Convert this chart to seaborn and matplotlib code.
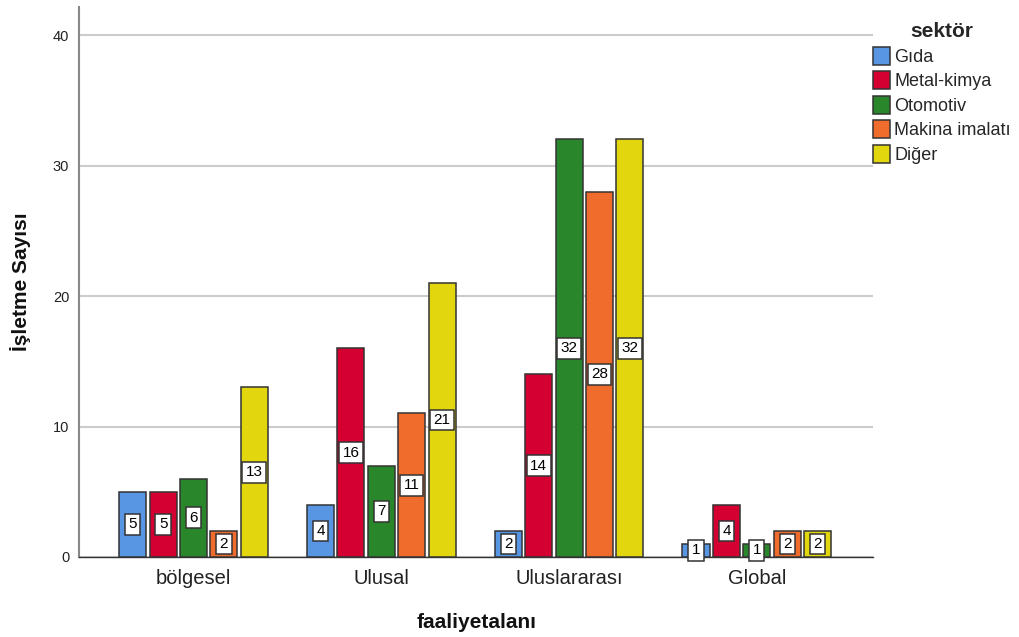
import matplotlib
matplotlib.use("Agg")
import matplotlib.pyplot as plt
import seaborn as sns
import pandas as pd

# Number of firms by activity scope and sector
activity = ["bölgesel", "Ulusal", "Uluslararası", "Global"]
sectors = ["Gıda", "Metal-kimya", "Otomotiv", "Makina imalatı", "Diğer"]
gida = [5, 4, 2, 1]
metal_kimya = [5, 16, 14, 4]
otomotiv = [6, 7, 32, 1]
makina = [2, 11, 28, 2]
diger = [13, 21, 32, 2]
y_ticks = [0, 10, 20, 30, 40]

palette = ["#5895E3", "#D50032", "#2A862A", "#F06C2C", "#E2D60F"]

series = [gida, metal_kimya, otomotiv, makina, diger]
rows = []
for sec, vals in zip(sectors, series):
    for act, v in zip(activity, vals):
        rows.append({"faaliyetalanı": act, "sektör": sec, "İşletme Sayısı": v})
df = pd.DataFrame(rows)

sns.set_theme(style="white")
plt.rcParams["font.family"] = ["Liberation Sans", "DejaVu Sans"]

fig = plt.figure(figsize=(10.19, 6.37), dpi=100)
ax = fig.add_axes([0.0775, 0.1256, 0.7795, 0.8634])

sns.barplot(
    data=df, x="faaliyetalanı", y="İşletme Sayısı", hue="sektör",
    order=activity, hue_order=sectors, palette=palette,
    width=0.81, gap=0.11, edgecolor="#333333", linewidth=1.1,
    saturation=1, ax=ax, zorder=3,
)

for cont in ax.containers:
    ax.bar_label(
        cont, label_type="center", fontsize=11, color="black", zorder=5,
        bbox=dict(boxstyle="square,pad=0.22", facecolor="white",
                  edgecolor="#333333", linewidth=1.1),
    )

ax.set_ylim(0, 42.15)
ax.set_xlim(-0.61, 3.62)
ax.set_yticks(y_ticks)
ax.yaxis.grid(True, color="#cccccc", linewidth=1.5, zorder=0)
ax.xaxis.grid(False)

for side in ["top", "right"]:
    ax.spines[side].set_visible(False)
ax.spines["left"].set_color("#888888")
ax.spines["left"].set_linewidth(1.5)
ax.spines["bottom"].set_color("#333333")
ax.spines["bottom"].set_linewidth(1.0)

ax.tick_params(axis="x", length=0, pad=9, labelsize=14.5, labelcolor="#222222")
ax.tick_params(axis="y", length=0, pad=7, labelsize=10.5, labelcolor="#222222")

ax.set_xlabel("faaliyetalanı", fontsize=15, fontweight="bold", labelpad=18,
              color="#111111")
ax.set_ylabel("İşletme Sayısı", fontsize=15, fontweight="bold", labelpad=16,
              color="#111111")

leg = ax.legend(
    title="sektör", loc="upper left", bbox_to_anchor=(0.99, 0.985),
    frameon=False, fontsize=13, title_fontsize=15,
    handlelength=0.95, handleheight=1.15, handletextpad=0.25,
    labelspacing=0.3, borderaxespad=0.0,
)
leg.get_title().set_fontweight("bold")
for h in leg.legend_handles:
    h.set_edgecolor("#333333")
    h.set_linewidth(1.1)

fig.savefig("out.png", dpi=100)
